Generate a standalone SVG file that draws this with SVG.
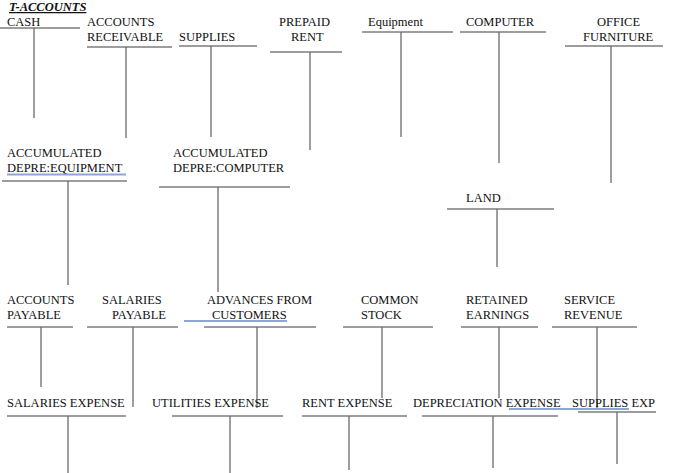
<svg xmlns="http://www.w3.org/2000/svg" width="700" height="473" viewBox="0 0 700 473">
<style>
text{font-family:"Liberation Serif","Times New Roman",serif;font-size:12.5px;fill:#111}
.t{font-weight:bold;font-style:italic;text-decoration:underline}
line{stroke:#7d7d7d;stroke-width:1.3}
.v{stroke:#6a6a6a}
.blue{stroke:#8ea6d6;stroke-width:2}
</style>
<rect width="700" height="473" fill="#fff"/>
<text class="t" x="9" y="11">T-ACCOUNTS</text>

<g id="cash"><text x="7" y="26">CASH</text><line x1="0" y1="28" x2="80" y2="28"/><line class="v" x1="34" y1="28" x2="34" y2="118"/></g>
<g id="accounts-receivable"><text x="87" y="26">ACCOUNTS</text><text x="87" y="41">RECEIVABLE</text><line x1="87" y1="47" x2="172" y2="47"/><line class="v" x1="126" y1="47" x2="126" y2="138"/></g>
<g id="supplies"><text x="179" y="41">SUPPLIES</text><line x1="179" y1="46" x2="257" y2="46"/><line class="v" x1="211" y1="46" x2="211" y2="137"/></g>
<g id="prepaid-rent"><text x="279" y="26">PREPAID</text><text x="291" y="41">RENT</text><line x1="270" y1="52" x2="342" y2="52"/><line class="v" x1="310" y1="52" x2="310" y2="150"/></g>
<g id="equipment"><text x="368" y="26">Equipment</text><line x1="362" y1="32" x2="453" y2="32"/><line class="v" x1="401" y1="32" x2="401" y2="137"/></g>
<g id="computer"><text x="466" y="26">COMPUTER</text><line x1="460" y1="32" x2="546" y2="32"/><line class="v" x1="499" y1="32" x2="499" y2="163"/></g>
<g id="office-furniture"><text x="597" y="26">OFFICE</text><text x="583" y="41">FURNITURE</text><line x1="565" y1="46" x2="663" y2="46"/><line class="v" x1="611" y1="46" x2="611" y2="183"/></g>

<g id="accum-depre-equipment"><text x="7" y="157">ACCUMULATED</text><text x="7" y="172">DEPRE:EQUIPMENT</text><line class="blue" x1="7" y1="174.5" x2="126" y2="174.5"/><line x1="2" y1="181" x2="127" y2="181"/><line class="v" x1="68" y1="181" x2="68" y2="285"/></g>
<g id="accum-depre-computer"><text x="173" y="157">ACCUMULATED</text><text x="173" y="172">DEPRE:COMPUTER</text><line x1="159" y1="187" x2="290" y2="187"/><line class="v" x1="218" y1="187" x2="218" y2="292"/></g>
<g id="land"><text x="466" y="202">LAND</text><line x1="447" y1="209" x2="554" y2="209"/><line class="v" x1="497" y1="209" x2="497" y2="267"/></g>

<g id="accounts-payable"><text x="7" y="304">ACCOUNTS</text><text x="7" y="319">PAYABLE</text><line x1="7" y1="327" x2="73" y2="327"/><line class="v" x1="41" y1="327" x2="41" y2="387"/></g>
<g id="salaries-payable"><text x="102" y="304">SALARIES</text><text x="112" y="319">PAYABLE</text><line x1="87" y1="327" x2="178" y2="327"/><line class="v" x1="133" y1="327" x2="133" y2="407"/></g>
<g id="advances-from-customers"><text x="207" y="304">ADVANCES FROM</text><text x="212" y="319">CUSTOMERS</text><line class="blue" x1="184" y1="321" x2="287" y2="321"/><line x1="204" y1="327" x2="316" y2="327"/><line class="v" x1="257" y1="327" x2="257" y2="408"/></g>
<g id="common-stock"><text x="361" y="304">COMMON</text><text x="361" y="319">STOCK</text><line x1="343" y1="327" x2="433" y2="327"/><line class="v" x1="382" y1="327" x2="382" y2="398"/></g>
<g id="retained-earnings"><text x="466" y="304">RETAINED</text><text x="466" y="319">EARNINGS</text><line x1="461" y1="327" x2="538" y2="327"/><line class="v" x1="499" y1="327" x2="499" y2="398"/></g>
<g id="service-revenue"><text x="564" y="304">SERVICE</text><text x="564" y="319">REVENUE</text><line x1="552" y1="327" x2="637" y2="327"/><line class="v" x1="597" y1="327" x2="597" y2="410"/></g>

<g id="salaries-expense"><text x="7" y="407">SALARIES EXPENSE</text><line x1="7" y1="416" x2="126" y2="416"/><line class="v" x1="68" y1="416" x2="68" y2="473"/></g>
<g id="utilities-expense"><text x="152" y="407">UTILITIES EXPENSE</text><line x1="172" y1="416" x2="283" y2="416"/><line class="v" x1="230" y1="416" x2="230" y2="473"/></g>
<g id="rent-expense"><text x="302" y="407">RENT EXPENSE</text><line x1="302" y1="416" x2="407" y2="416"/><line class="v" x1="349" y1="416" x2="349" y2="470"/></g>
<g id="depreciation-expense"><text x="413" y="407">DEPRECIATION EXPENSE</text><line class="blue" x1="509" y1="409" x2="629" y2="409"/><line x1="422" y1="416" x2="558" y2="416"/><line class="v" x1="493" y1="416" x2="493" y2="468"/></g>
<g id="supplies-exp"><text x="572" y="407">SUPPLIES EXP</text><line x1="578" y1="412" x2="656" y2="412"/><line class="v" x1="617" y1="412" x2="617" y2="464"/></g>
</svg>
